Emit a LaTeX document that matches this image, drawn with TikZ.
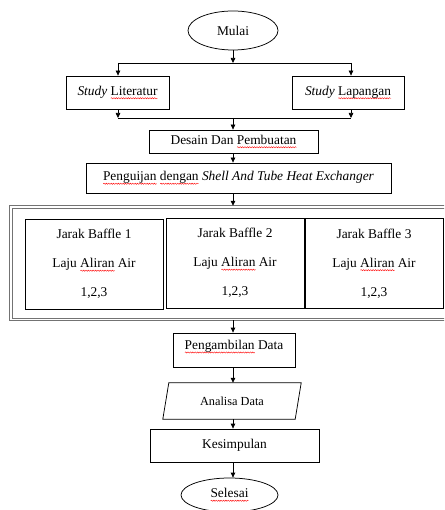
\documentclass[tikz,border=0pt]{standalone}
\usepackage{fontspec}
\setmainfont{Liberation Serif}
\usetikzlibrary{arrows.meta,shapes.geometric,decorations.pathmorphing}
\newsavebox\sqbox
\newlength\sqlen
\newcommand\sqw[1]{\sbox\sqbox{#1}\setlength\sqlen{\wd\sqbox}\leavevmode\rlap{\raisebox{-3pt}{\tikz[baseline=0pt]\draw[red,line width=0.4pt,decorate,decoration={snake,amplitude=0.6pt,segment length=2.4pt}] (0pt,0pt) -- (\sqlen,0pt);}}\usebox\sqbox}
\newcommand\fs{\fontsize{13.4}{16}\selectfont}
\tikzset{
  ln/.style={line width=0.75pt, draw=black},
  arr/.style={ln, -{Triangle[length=5pt,width=4.5pt]}},
  box/.style={draw, line width=0.75pt, inner sep=0pt, font=\fs, align=center},
  term/.style={draw, ellipse, line width=0.75pt, inner sep=0pt, font=\fs},
  inbox/.style={draw, line width=0.75pt, inner sep=0pt, align=center,
    font=\fontsize{13.4}{29}\selectfont, minimum width=138pt, minimum height=90pt},
  frame/.style={draw=black!55, line width=0.7pt}
}
\begin{document}
\begin{tikzpicture}[x=1pt,y=-1pt]
\useasboundingbox (0,0) rectangle (444,510);
\clip (0,0) rectangle (444,510);
% nodes
\node[term, minimum width=90pt, minimum height=39pt] (mulai) at (233,30.5) {Mulai};
\node[box, minimum width=103pt, minimum height=33pt] (lit) at (117.5,92.5) {\textit{Study} \sqw{Literatur}};
\node[box, minimum width=112pt, minimum height=33pt] (lap) at (348,92.5) {\textit{Study} \sqw{Lapangan}};
\node[box, minimum width=169pt, minimum height=23pt] (desain) at (233.5,141.5) {Desain Dan \sqw{Pembuatan}};
\node[box, minimum width=305pt, minimum height=30pt] (uji) at (238.5,178) {\sqw{Penguijan} \sqw{dengan} \textit{Shell And Tube Heat Exchanger}};
\node[inner sep=0pt, minimum width=437pt, minimum height=114pt] (outer) at (228.5,263) {};
\draw[frame] (outer.north west) rectangle (outer.south east);
\draw[frame] ([shift={(2.2pt,-2.2pt)}]outer.north west) rectangle ([shift={(-2.2pt,2.2pt)}]outer.south east);
\node[inbox] (b1) at (94,264) {Jarak Baffle 1\\Laju \sqw{Aliran} Air\\1,2,3};
\node[inbox] (b2) at (235,263) {Jarak Baffle 2\\Laju \sqw{Aliran} Air\\1,2,3};
\node[inbox] (b3) at (374,263.5) {Jarak Baffle 3\\Laju \sqw{Aliran} Air\\1,2,3};
\node[box, minimum width=122pt, text height=16.5pt, text depth=17.5pt] (ambil) at (234,350) {\sqw{Pengambilan} Data};
\node[inner sep=0pt, minimum width=132pt, minimum height=36pt, font=\fontsize{12.3}{15}\selectfont] (ana) at (232,401) {Analisa Data};
\draw[ln] ([xshift=3pt]ana.north west) -- ([xshift=3pt]ana.north east)
  -- ([xshift=-3pt]ana.south east) -- ([xshift=-3pt]ana.south west) -- cycle;
\node[box, minimum width=169pt, minimum height=33pt] (kes) at (234.5,445.5) {Kesimpulan};
\node[term, minimum width=97pt, minimum height=34pt] (selesai) at (229.5,495) {\sqw{Selesai}};
% junctions
\coordinate (s) at (233,63);
\coordinate (sl) at (118,63);
\coordinate (sr) at (351,63);
\coordinate (m) at (233,118);
\coordinate (ml) at (118,118);
\coordinate (mr) at (351,118);
% connectors
\draw[arr] (mulai.south) -- (s);
\draw[ln] (sl) -- (sr);
\draw[arr] (sl) -- (sl |- lit.north);
\draw[arr] (sr) -- (sr |- lap.north);
\draw[arr] (lit.south -| ml) -- (ml);
\draw[arr] (lap.south -| mr) -- (mr);
\draw[ln] (ml) -- (mr);
\draw[arr] (m) -- (desain.north -| m);
\draw[arr] (desain.south -| m) -- (uji.north -| m);
\draw[arr] (uji.south -| m) -- (outer.north -| m);
\draw[arr] (outer.south -| m) -- (ambil.north -| m);
\draw[arr] (ambil.south -| m) -- (ana.north -| m);
\draw[arr] (ana.south -| m) -- (kes.north -| m);
\draw[arr] (kes.south -| m) -- (selesai.north -| m);
\end{tikzpicture}
\end{document}
